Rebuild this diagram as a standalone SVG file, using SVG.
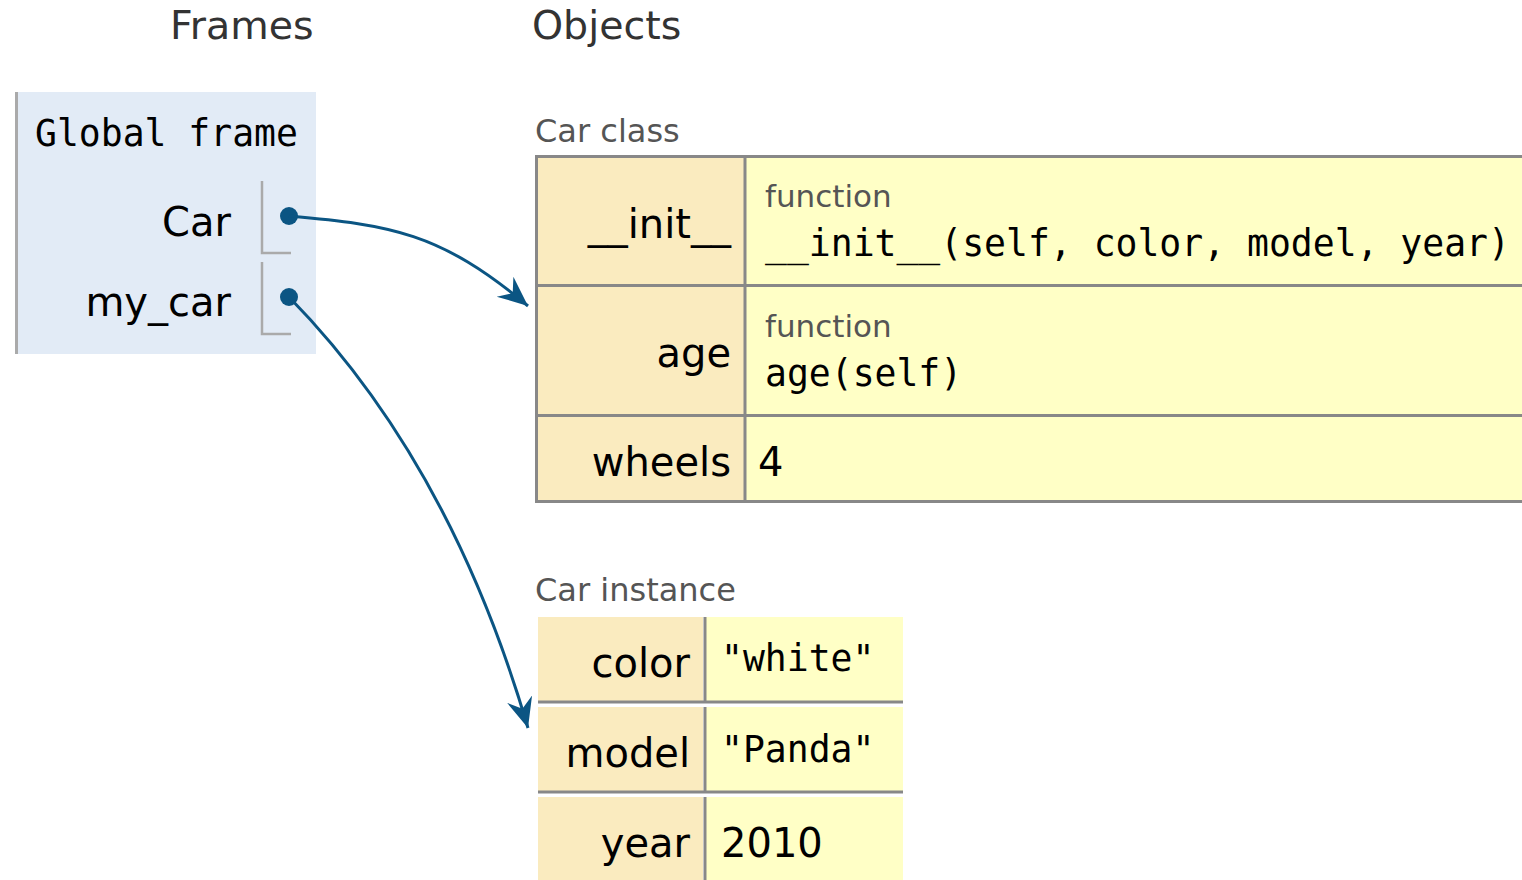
<svg xmlns="http://www.w3.org/2000/svg" width="1522" height="880" viewBox="0 0 1522 880">
<style>
.hdr{font-family:"DejaVu Sans",Verdana,sans-serif;font-size:39.5px;fill:#333}
.lbl{font-family:"DejaVu Sans",Verdana,sans-serif;font-size:32px;fill:#555}
.key{font-family:"DejaVu Sans",Verdana,sans-serif;font-size:40px;fill:#000;text-anchor:end}
.sans{font-family:"DejaVu Sans",Verdana,sans-serif;font-size:40px;fill:#000}
.mono{font-family:"DejaVu Sans Mono","Liberation Mono",monospace;font-size:36.4px;fill:#000}
.fn{font-family:"DejaVu Sans",Verdana,sans-serif;font-size:31px;fill:#555}
.kbg{fill:#faebbf}
.vbg{fill:#ffffc6}
.grid{stroke:#888;stroke-width:3;fill:none}
.brk{stroke:#aaa;stroke-width:2.5;fill:none}
.conn{stroke:#0b5583;stroke-width:3;fill:none}
.dot{fill:#0b5583}
</style>
<defs>
<marker id="arr" markerUnits="userSpaceOnUse" markerWidth="34" markerHeight="30" refX="30" refY="13" orient="auto">
<path d="M0,0 L30,13 L0,26 L10,13 z" fill="#0b5583"/>
</marker>
</defs>
<text class="hdr" x="170" y="39">Frames</text>
<text class="hdr" x="532" y="39">Objects</text>

<g id="global-frame">
<rect x="15" y="92" width="301" height="262" fill="#e2ebf6"/>
<line x1="16.5" y1="92" x2="16.5" y2="354" stroke="#aaa" stroke-width="3"/>
<text class="mono" x="35" y="146">Global frame</text>
<text class="key" x="231" y="236">Car</text>
<path class="brk" d="M262,181 V253 H291"/>
<text class="key" x="231" y="316">my_car</text>
<path class="brk" d="M262,262 V334 H291"/>
<circle class="dot" cx="289" cy="216" r="9"/>
<circle class="dot" cx="289" cy="297" r="9"/>
</g>

<g id="car-class">
<text class="lbl" x="535" y="142">Car class</text>
<rect class="kbg" x="537" y="157" width="208" height="344"/>
<rect class="vbg" x="745" y="157" width="780" height="344"/>
<rect class="grid" x="536.5" y="156.5" width="1000" height="345"/>
<line class="grid" x1="745" y1="156" x2="745" y2="502"/>
<line class="grid" x1="536" y1="285.5" x2="1522" y2="285.5"/>
<line class="grid" x1="536" y1="415.5" x2="1522" y2="415.5"/>
<text class="key" x="731" y="238">__init__</text>
<text class="fn" x="765" y="207">function</text>
<text class="mono" x="765" y="256">__init__(self, color, model, year)</text>
<text class="key" x="731" y="367">age</text>
<text class="fn" x="765" y="337">function</text>
<text class="mono" x="765" y="386">age(self)</text>
<text class="key" x="731" y="476">wheels</text>
<text class="sans" x="758" y="476">4</text>
</g>

<g id="car-instance">
<text class="lbl" x="535" y="601">Car instance</text>
<rect class="kbg" x="538" y="617" width="165" height="86"/>
<rect class="vbg" x="704" y="617" width="199" height="86"/>
<rect class="kbg" x="538" y="707" width="165" height="86"/>
<rect class="vbg" x="704" y="707" width="199" height="86"/>
<rect class="kbg" x="538" y="797" width="165" height="83"/>
<rect class="vbg" x="704" y="797" width="199" height="83"/>
<line class="grid" x1="705" y1="617" x2="705" y2="703"/>
<line class="grid" x1="705" y1="707" x2="705" y2="793"/>
<line class="grid" x1="705" y1="797" x2="705" y2="880"/>
<line class="grid" x1="538" y1="702" x2="903" y2="702"/>
<line class="grid" x1="538" y1="792" x2="903" y2="792"/>
<text class="key" x="690" y="677">color</text>
<text class="mono" x="721" y="671">"white"</text>
<text class="key" x="690" y="767">model</text>
<text class="mono" x="721" y="762">"Panda"</text>
<text class="key" x="690" y="857">year</text>
<text class="sans" x="721" y="857">2010</text>
</g>

<g id="connectors">
<path class="conn" d="M289,216 C390,225 440,232 528,306" marker-end="url(#arr)"/>
<path class="conn" d="M289,297 C385,395 470,530 528,728" marker-end="url(#arr)"/>
</g>
</svg>
